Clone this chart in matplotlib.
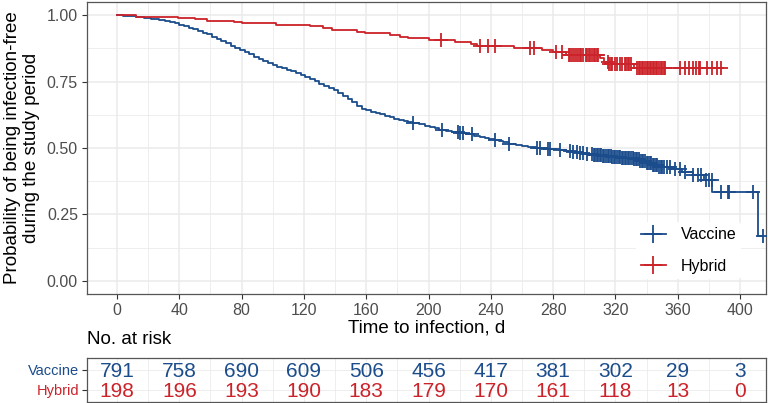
import numpy as np
import matplotlib.pyplot as plt
from matplotlib.lines import Line2D

plt.rcParams['font.family'] = ['Liberation Sans', 'DejaVu Sans']

blue = '#1B4C8C'
red = '#CC2229'

# Kaplan-Meier steps (day, survival after the drop)
vac_time = [0, 4, 8, 12, 17, 22, 27, 31, 34, 37, 40, 43, 46, 49, 52, 55, 58, 61, 64, 67,
            70, 73, 76, 79, 82, 85, 88, 91, 94, 97, 100, 103, 106, 109, 112, 115, 118, 121,
            124, 127, 130, 133, 136, 139, 142, 145, 148, 151, 154, 157, 160, 163, 166, 169,
            172, 175, 178, 181, 184, 187, 190, 194, 198, 201, 204, 207, 211, 215, 220, 224,
            229, 233, 236, 239, 242, 245, 248, 252, 256, 260, 264, 269, 276, 284, 288, 292,
            296, 300, 306, 312, 318, 324, 328, 332, 336, 340, 344, 348, 356, 363, 370, 377,
            382, 411.8]
vac_surv = [1.000, 0.998, 0.996, 0.994, 0.990, 0.987, 0.984, 0.980, 0.976, 0.970, 0.962,
            0.958, 0.953, 0.947, 0.941, 0.935, 0.928, 0.920, 0.911, 0.903, 0.895, 0.886,
            0.877, 0.869, 0.861, 0.853, 0.844, 0.835, 0.827, 0.820, 0.813, 0.806, 0.800,
            0.795, 0.789, 0.782, 0.775, 0.768, 0.760, 0.751, 0.743, 0.735, 0.727, 0.717,
            0.706, 0.695, 0.684, 0.672, 0.658, 0.648, 0.642, 0.636, 0.631, 0.627, 0.622,
            0.617, 0.610, 0.605, 0.601, 0.597, 0.593, 0.589, 0.584, 0.580, 0.574, 0.568,
            0.565, 0.561, 0.556, 0.552, 0.547, 0.543, 0.539, 0.535, 0.531, 0.527, 0.523,
            0.516, 0.512, 0.508, 0.504, 0.499, 0.496, 0.493, 0.489, 0.485, 0.481, 0.477,
            0.474, 0.470, 0.467, 0.464, 0.461, 0.457, 0.451, 0.444, 0.437, 0.430, 0.422,
            0.410, 0.399, 0.380, 0.333, 0.167]
vac_cens = [190, 208.5, 219, 220.5, 222, 227.7, 242.7, 252, 269.5, 271.6, 277, 278, 284.6,
            290.9, 293, 295.2, 297.3, 299.4, 301.5, 304.8,
            306, 307, 308, 309, 310, 311, 312, 313, 314, 315, 316, 317, 318, 319, 320, 321,
            322, 323, 324, 325, 326, 327, 328, 329, 330, 331, 332, 333, 334, 335, 336, 337,
            338, 339, 340, 341, 342, 343, 344, 345, 346, 347, 348, 349, 350,
            351.5, 353, 355, 358, 361.5, 364.7, 370, 373, 375, 378, 380, 381.8, 388, 392,
            393, 408.5, 414.5]

hyb_time = [0, 12, 39, 50, 58, 75, 80, 102, 124, 132, 138, 154, 159, 175, 182, 187, 200,
            217, 227, 231, 255, 273, 280, 288, 310, 313, 316, 332]
hyb_surv = [1.000, 0.995, 0.990, 0.985, 0.980, 0.975, 0.970, 0.965, 0.960, 0.952, 0.944,
            0.938, 0.932, 0.926, 0.920, 0.913, 0.907, 0.900, 0.892, 0.886, 0.877, 0.868,
            0.860, 0.850, 0.838, 0.825, 0.818, 0.800]
hyb_cens = [207.8, 233, 238.4, 242.7, 265, 268, 282, 285.5,
            290, 291, 292, 293.5, 295, 296, 297, 298, 299.5, 301, 302, 303, 304, 305, 306,
            307, 308, 309,
            315, 316, 317, 318, 320, 321, 323, 324, 326, 327, 328, 329, 330,
            334, 335, 336, 337, 338, 339, 340, 341, 342, 343, 344, 345, 346, 347, 348, 349,
            350, 351, 352,
            361.5, 364.7, 367, 369.6, 372, 373.5, 374.5, 378.6, 381.8, 385, 388]

risk_times = [0, 40, 80, 120, 160, 200, 240, 280, 320, 360, 400]
risk_vac = [791, 758, 690, 609, 506, 456, 417, 381, 302, 29, 3]
risk_hyb = [198, 196, 193, 190, 183, 179, 170, 161, 118, 13, 0]

groups = [('Vaccine', vac_time, vac_surv, vac_cens, blue),
          ('Hybrid', hyb_time, hyb_surv, hyb_cens, red)]

fig = plt.figure(figsize=(7.71, 4.03), dpi=100)
ax = fig.add_axes([0.1128, 0.2705, 0.8807, 0.7245])
tab = fig.add_axes([0.1128, 0.0035, 0.8807, 0.1082])

xlim = (-19.3, 416.7)

handles = []
for name, t, s, c, col in groups:
    t = np.array(t, dtype=float)
    s = np.array(s)
    c = np.array(c)
    tt = np.append(t, c.max())
    ss = np.append(s, s[-1])
    ax.step(tt, ss, where='post', color=col, lw=1.3, zorder=3)
    cy = s[np.searchsorted(t, c, side='right') - 1]
    ax.plot(c, cy, ls='none', marker='+', ms=9.5, mew=1.3, color=col, zorder=3)
    handles.append(Line2D([0], [0], color=col, lw=1.3, marker='+', ms=13, mew=1.3))

ax.set_xlim(xlim)
ax.set_ylim(-0.05, 1.05)
ax.set_xticks(risk_times)
ax.set_xticks(np.arange(20, 420, 40), minor=True)
ax.set_yticks([0, 0.25, 0.5, 0.75, 1.0])
ax.set_yticklabels(['0.00', '0.25', '0.50', '0.75', '1.00'])
ax.set_yticks([0.125, 0.375, 0.625, 0.875], minor=True)
ax.grid(which='major', color='#EBEBEB', lw=1.1)
ax.grid(which='minor', color='#EBEBEB', lw=0.6)
ax.set_axisbelow(True)
ax.tick_params(which='major', length=3.5, color='#333333', labelcolor='#4D4D4D',
               labelsize=11.5, width=0.8, pad=3)
ax.tick_params(which='minor', length=0)
for sp in ax.spines.values():
    sp.set_color('#555555')
    sp.set_linewidth(0.9)
ax.set_xlabel('Time to infection, d', fontsize=13.5, labelpad=1)
ax.set_ylabel('Probability of being infection-free\nduring the study period', fontsize=13.5,
              labelpad=5, linespacing=1.12)

leg = ax.legend(handles, ['Vaccine', 'Hybrid'], loc='lower right',
                bbox_to_anchor=(0.975, 0.025), frameon=True, fontsize=11.5,
                handlelength=1.6, handletextpad=0.9, labelspacing=1.05, borderpad=0.3)
leg.get_frame().set_edgecolor('none')
leg.get_frame().set_facecolor('white')
leg.get_frame().set_alpha(1)

# risk table
tab.set_xlim(xlim)
tab.set_ylim(0.4, 2.6)
for x, n in zip(risk_times, risk_vac):
    tab.text(x, 2, str(n), ha='center', va='center_baseline', fontsize=15, color=blue)
for x, n in zip(risk_times, risk_hyb):
    tab.text(x, 1, str(n), ha='center', va='center_baseline', fontsize=15, color=red)
tab.set_xticks(risk_times)
tab.set_xticks(np.arange(20, 420, 40), minor=True)
tab.set_xticklabels([])
tab.set_yticks([1, 2])
tab.set_yticklabels(['Hybrid', 'Vaccine'])
for lbl, col in zip(tab.get_yticklabels(), [red, blue]):
    lbl.set_color(col)
tab.grid(which='both', color='#EBEBEB', lw=0.6)
tab.set_axisbelow(True)
tab.tick_params(axis='x', length=0)
tab.tick_params(axis='y', length=3.5, color='#333333', labelsize=10.5, width=0.8, pad=2)
tab.tick_params(which='minor', length=0)
for sp in tab.spines.values():
    sp.set_color('#555555')
    sp.set_linewidth(0.9)

fig.text(87 / 771, 1 - 338 / 403, 'No. at risk', ha='left', va='center_baseline',
         fontsize=13.5)

fig.savefig('out.png', dpi=100)
